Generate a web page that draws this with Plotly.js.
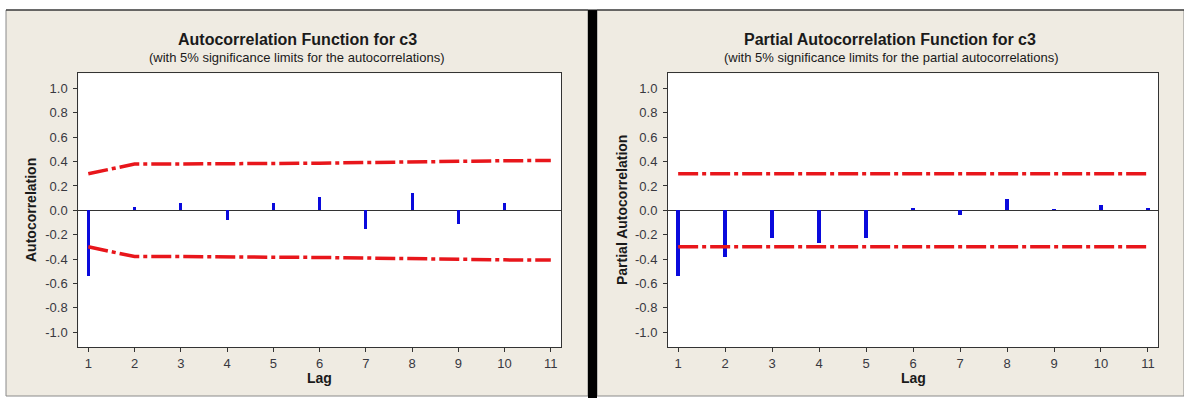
<!DOCTYPE html>
<html>
<head>
<meta charset="utf-8">
<script src="https://cdn.plot.ly/plotly-3.0.1.min.js"></script>
<style>html,body{margin:0;padding:0;background:#fff;}#chart{width:1184px;height:398px;}</style>
</head>
<body>
<div id="chart"></div>
<script>
// ---- data ----
const lags = [1, 2, 3, 4, 5, 6, 7, 8, 9, 10, 11];
const acfLags = [1, 2, 3, 4, 5, 6, 7, 8, 9, 10];
const acfValues = [-0.54, 0.03, 0.06, -0.08, 0.06, 0.11, -0.15, 0.14, -0.11, 0.06];
const acfLimitUpper = [0.30, 0.38, 0.38, 0.385, 0.385, 0.387, 0.393, 0.395, 0.405, 0.407, 0.409];
const acfLimitLower = [-0.30, -0.38, -0.38, -0.385, -0.385, -0.387, -0.393, -0.395, -0.405, -0.407, -0.409];
const pacfValues = [-0.54, -0.38, -0.23, -0.27, -0.23, 0.02, -0.04, 0.09, 0.01, 0.04, 0.02];
const pacfLimitUpper = [0.30, 0.30, 0.30, 0.30, 0.30, 0.30, 0.30, 0.30, 0.30, 0.30, 0.30];
const pacfLimitLower = [-0.30, -0.30, -0.30, -0.30, -0.30, -0.30, -0.30, -0.30, -0.30, -0.30, -0.30];
const yTickVals = [-1.0, -0.8, -0.6, -0.4, -0.2, 0.0, 0.2, 0.4, 0.6, 0.8, 1.0];
const yTickText = ['-1.0', '-0.8', '-0.6', '-0.4', '-0.2', '0.0', '0.2', '0.4', '0.6', '0.8', '1.0'];

const W = 1184, H = 398;
const px = v => v / W;
const py = v => 1 - v / H;

const BAR = '#0a0adc';
const RED = '#e8161b';
const DASH = '20px,4px,4px,4px';
const FONT = 'Liberation Sans, Arial, sans-serif';

const traces = [
  {type: 'bar', x: acfLags, y: acfValues, width: 0.065, marker: {color: BAR, line: {width: 0}}, xaxis: 'x', yaxis: 'y'},
  {type: 'scatter', mode: 'lines', x: lags, y: acfLimitUpper, line: {color: RED, width: 3.5, dash: DASH}, xaxis: 'x', yaxis: 'y'},
  {type: 'scatter', mode: 'lines', x: lags, y: acfLimitLower, line: {color: RED, width: 3.5, dash: DASH}, xaxis: 'x', yaxis: 'y'},
  {type: 'bar', x: lags, y: pacfValues, width: 0.075, marker: {color: BAR, line: {width: 0}}, xaxis: 'x2', yaxis: 'y2'},
  {type: 'scatter', mode: 'lines', x: lags, y: pacfLimitUpper, line: {color: RED, width: 3.5, dash: DASH}, xaxis: 'x2', yaxis: 'y2'},
  {type: 'scatter', mode: 'lines', x: lags, y: pacfLimitLower, line: {color: RED, width: 3.5, dash: DASH}, xaxis: 'x2', yaxis: 'y2'}
];

const tickFont = {family: FONT, size: 13, color: '#38383f'};
function xAx(domain, anchor) {
  return {domain: domain, anchor: anchor, range: [0.784, 11.22], tickvals: lags, ticktext: lags.map(String),
    ticks: 'outside', ticklen: 4, tickcolor: '#333', tickfont: tickFont, showgrid: false, zeroline: false,
    showline: true, linecolor: '#333', linewidth: 1, mirror: true, fixedrange: true};
}
function yAx(domain, anchor) {
  return {domain: domain, anchor: anchor, range: [-1.125, 1.125], tickvals: yTickVals, ticktext: yTickText,
    ticks: 'outside', ticklen: 4, tickcolor: '#333', tickfont: tickFont, showgrid: false,
    zeroline: true, zerolinecolor: '#333', zerolinewidth: 1, ticklabelstandoff: 3,
    showline: true, linecolor: '#333', linewidth: 1, mirror: true, fixedrange: true};
}

const yDom = [py(347.3), py(73.3)];
const layout = {
  width: W, height: H, autosize: false,
  margin: {l: 0, r: 0, t: 0, b: 0, pad: 0},
  paper_bgcolor: '#ffffff', plot_bgcolor: 'rgba(0,0,0,0)',
  showlegend: false, bargap: 0,
  xaxis: xAx([px(78.3), px(561)], 'y'),
  yaxis: yAx(yDom, 'x'),
  xaxis2: xAx([px(668), px(1158.3)], 'y2'),
  yaxis2: yAx(yDom, 'x2'),
  shapes: [
    {type: 'rect', xref: 'paper', yref: 'paper', x0: px(6), x1: px(588), y0: py(396), y1: py(10), fillcolor: '#efebe2', line: {color: '#8a8a8a', width: 1}, layer: 'below'},
    {type: 'rect', xref: 'paper', yref: 'paper', x0: px(597), x1: px(1184), y0: py(396), y1: py(10), fillcolor: '#efebe2', line: {color: '#8a8a8a', width: 1}, layer: 'below'},
    {type: 'rect', xref: 'paper', yref: 'paper', x0: px(588), x1: px(597), y0: 0, y1: py(10), fillcolor: '#000000', line: {width: 0}, layer: 'below'},
    {type: 'line', xref: 'paper', yref: 'paper', x0: px(6), x1: 1, y0: py(10), y1: py(10), line: {color: '#111', width: 1.2}, layer: 'below'},
    {type: 'rect', xref: 'paper', yref: 'paper', x0: px(78.3), x1: px(561), y0: py(347.3), y1: py(73.3), fillcolor: '#ffffff', line: {width: 0}, layer: 'below'},
    {type: 'rect', xref: 'paper', yref: 'paper', x0: px(668), x1: px(1158.3), y0: py(347.3), y1: py(73.3), fillcolor: '#ffffff', line: {width: 0}, layer: 'below'}
  ],
  annotations: [
    {xref: 'paper', yref: 'paper', x: px(297), y: py(39), text: '<b>Autocorrelation Function for c3</b>', showarrow: false, xanchor: 'center', yanchor: 'middle', font: {family: FONT, size: 16, color: '#1a1a1a'}},
    {xref: 'paper', yref: 'paper', x: px(297), y: py(57), text: '(with 5% significance limits for the autocorrelations)', showarrow: false, xanchor: 'center', yanchor: 'middle', font: {family: FONT, size: 13, color: '#1a1a1a'}},
    {xref: 'paper', yref: 'paper', x: px(890), y: py(39), text: '<b>Partial Autocorrelation Function for c3</b>', showarrow: false, xanchor: 'center', yanchor: 'middle', font: {family: FONT, size: 16, color: '#1a1a1a'}},
    {xref: 'paper', yref: 'paper', x: px(891), y: py(57), text: '(with 5% significance limits for the partial autocorrelations)', showarrow: false, xanchor: 'center', yanchor: 'middle', font: {family: FONT, size: 13, color: '#1a1a1a'}},
    {xref: 'paper', yref: 'paper', x: px(31), y: py(210), text: '<b>Autocorrelation</b>', textangle: -90, showarrow: false, xanchor: 'center', yanchor: 'middle', font: {family: FONT, size: 14, color: '#1a1a1a'}},
    {xref: 'paper', yref: 'paper', x: px(622), y: py(210), text: '<b>Partial Autocorrelation</b>', textangle: -90, showarrow: false, xanchor: 'center', yanchor: 'middle', font: {family: FONT, size: 14, color: '#1a1a1a'}},
    {xref: 'paper', yref: 'paper', x: px(319.6), y: py(378), text: '<b>Lag</b>', showarrow: false, xanchor: 'center', yanchor: 'middle', font: {family: FONT, size: 14, color: '#1a1a1a'}},
    {xref: 'paper', yref: 'paper', x: px(913), y: py(378), text: '<b>Lag</b>', showarrow: false, xanchor: 'center', yanchor: 'middle', font: {family: FONT, size: 14, color: '#1a1a1a'}}
  ]
};

Plotly.newPlot('chart', traces, layout, {displayModeBar: false, staticPlot: true});
</script>
</body>
</html>
